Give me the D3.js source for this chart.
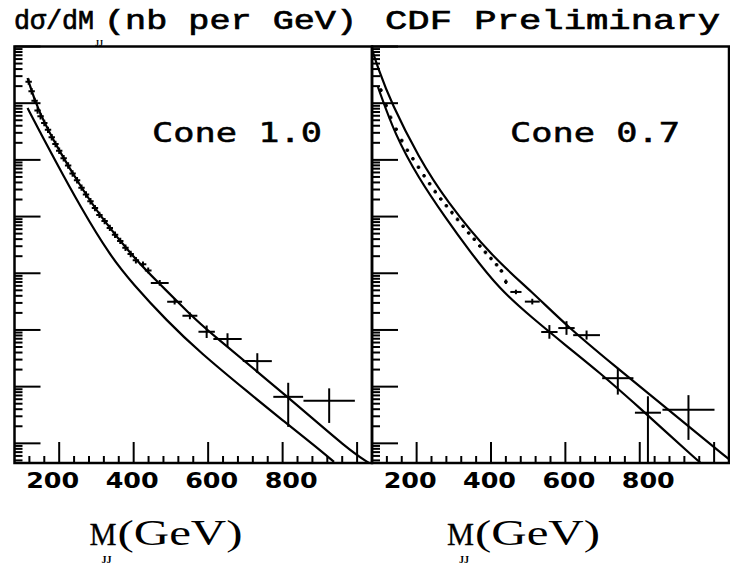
<!DOCTYPE html>
<html>
<head>
<meta charset="utf-8">
<script src="https://cdn.jsdelivr.net/npm/d3@7"></script>
<style>
  body { margin: 0; background: #fff; }
  svg { display: block; }
</style>
</head>
<body>
<svg id="chart" width="730" height="565"></svg>
<script>
// Dijet invariant mass spectrum dσ/dM_JJ (nb per GeV), two jet cone sizes.

// ---- axes ----
const massDomain = [80, 1040];            // GeV
const sigmaDomain = [4.5e-7, 10];         // nb per GeV (log)
const massMajorTicks = [200, 400, 600, 800, 1000];
const massTickLabels = ["200", "400", "600", "800"];
const massMinorStep = 40;

// ---- Cone 1.0 : theory curves ----
const cone10UpperMass = [115, 142, 203, 257, 310, 398, 470, 551, 596, 818, 978, 1032];
const cone10UpperVal  = [2.78, 0.759, 0.132, 0.0347, 0.0102, 1.94e-3, 6.46e-4, 1.91e-4, 1.0e-4, 6.3e-6, 7.6e-7, 4.5e-7];
const cone10LowerMass = [115, 150, 184, 257, 337, 398, 489, 577, 711, 799, 890, 938];
const cone10LowerVal  = [0.822, 0.298, 0.1125, 0.01476, 2.02e-3, 6.47e-4, 1.45e-4, 4.07e-5, 7.6e-6, 2.57e-6, 8.7e-7, 4.7e-7];

// ---- Cone 1.0 : data, fine bins ----
const cone10FineMass = [118, 126, 134, 142, 150, 160, 170, 180, 190, 200, 212, 224, 236, 248, 260, 272, 284, 296, 308, 322, 336, 350, 364, 378, 392, 406];
const cone10FineVal  = [2.40, 1.62, 1.10, 0.741, 0.589, 0.447, 0.339, 0.251, 0.191, 0.145, 0.107, 0.0794, 0.0575, 0.0437, 0.0324, 0.0245, 0.0186, 0.0141, 0.0107, 8.32e-3, 6.31e-3, 4.79e-3, 3.72e-3, 2.82e-3, 2.19e-3, 1.70e-3];

// ---- Cone 1.0 : data, wide bins with errors ----
const cone10BinMass = [425, 439, 470, 510, 551, 596, 652, 732, 815, 925];
const cone10BinHalf = [9, 9, 24, 20, 20, 22, 38, 39, 40, 69];
const cone10BinVal  = [1.445e-3, 1.12e-3, 6.76e-4, 3.16e-4, 1.78e-4, 9.33e-5, 6.92e-5, 2.82e-5, 6.61e-6, 5.62e-6];
const cone10BinLo   = [1.29e-3, 1.0e-3, 6.03e-4, 2.82e-4, 1.55e-4, 7.24e-5, 5.01e-5, 1.74e-5, 1.95e-6, 2.29e-6];
const cone10BinHi   = [1.62e-3, 1.26e-3, 7.59e-4, 3.55e-4, 2.04e-4, 1.20e-4, 8.71e-5, 3.89e-5, 1.17e-5, 9.33e-6];

// ---- Cone 0.7 : theory curves ----
const cone07UpperMass = [78, 96, 132, 205, 278, 403, 511, 603, 739, 828, 917, 1039];
const cone07UpperVal  = [9.8, 4.18, 1.0, 0.1125, 0.0196, 1.94e-3, 4.68e-4, 1.18e-4, 2.14e-5, 7.14e-6, 2.38e-6, 5.3e-7];
const cone07LowerMass = [96, 142, 205, 278, 340, 422, 511, 603, 693, 782, 874, 945, 964];
const cone07LowerVal  = [1.93, 0.275, 0.048, 9.44e-3, 2.58e-3, 5.28e-4, 1.63e-4, 5.22e-5, 1.75e-5, 5.37e-6, 1.52e-6, 5.75e-7, 4.5e-7];

// ---- Cone 0.7 : data, fine bins ----
const cone07FineMass = [104, 118, 130, 145, 160, 175, 190, 205, 220, 235, 250, 265, 280, 295, 310, 325, 340, 355, 370, 385, 400, 415, 428];
const cone07FineVal  = [1.70, 0.912, 0.562, 0.347, 0.219, 0.148, 0.105, 0.0741, 0.0525, 0.0380, 0.0275, 0.0204, 0.0155, 0.01175, 8.91e-3, 6.76e-3, 5.13e-3, 3.98e-3, 3.02e-3, 2.34e-3, 1.82e-3, 1.41e-3, 1.10e-3];

// ---- Cone 0.7 : data, wide bins with errors ----
const cone07BinMass = [440, 467, 511, 557, 603, 657, 741, 822, 931];
const cone07BinHalf = [5, 15, 20, 22, 22, 36, 42, 35, 70];
const cone07BinVal  = [7.08e-4, 4.68e-4, 3.16e-4, 9.2e-5, 1.08e-4, 8.1e-5, 1.41e-5, 3.47e-6, 3.9e-6];
const cone07BinLo   = [6.46e-4, 4.27e-4, 2.82e-4, 7.0e-5, 8.2e-5, 6.76e-5, 7.24e-6, 1.0e-7, 1.15e-6];
const cone07BinHi   = [7.76e-4, 5.13e-4, 3.55e-4, 1.22e-4, 1.43e-4, 9.77e-5, 2.14e-5, 6.76e-6, 7.08e-6];

// ---- layout ----
const plotTop = 46.5, plotBottom = 463;
const ink = "#000";

const panels = [
  {
    id: "c10", x0: 14.5, x1: 372, label: "Cone 1.0", labelX: 152,
    curves: [[cone10UpperMass, cone10UpperVal], [cone10LowerMass, cone10LowerVal]],
    fine: [cone10FineMass, cone10FineVal], fineSize: 3.2,
    bins: [cone10BinMass, cone10BinHalf, cone10BinVal, cone10BinLo, cone10BinHi]
  },
  {
    id: "c07", x0: 372, x1: 729, label: "Cone 0.7", labelX: 510,
    curves: [[cone07UpperMass, cone07UpperVal], [cone07LowerMass, cone07LowerVal]],
    fine: [cone07FineMass, cone07FineVal], fineSize: 1.8,
    bins: [cone07BinMass, cone07BinHalf, cone07BinVal, cone07BinLo, cone07BinHi]
  }
];

const svg = d3.select("#chart");
svg.append("rect").attr("width", 730).attr("height", 565).attr("fill", "#fff");

const y = d3.scaleLog().domain(sigmaDomain).range([plotBottom, plotTop]);

// log ticks 1..9 × 10^k inside the domain
const yTicks = [];
for (let k = -7; k <= 1; k++) {
  for (let m = 1; m <= 9; m++) {
    const v = m * Math.pow(10, k);
    if (v >= sigmaDomain[0] && v <= sigmaDomain[1] * 1.0001) yTicks.push({ v, major: m === 1 });
  }
}
const massMinorTicks = d3.range(massDomain[0] + massMinorStep, massDomain[1], massMinorStep)
  .filter(v => !massMajorTicks.includes(v));

const defs = svg.append("defs");

panels.forEach(p => {
  const x = d3.scaleLinear().domain(massDomain).range([p.x0, p.x1]);
  const g = svg.append("g");

  defs.append("clipPath").attr("id", "clip-" + p.id)
    .append("rect").attr("x", p.x0).attr("y", plotTop)
    .attr("width", p.x1 - p.x0).attr("height", plotBottom - plotTop);

  const inner = g.append("g").attr("clip-path", `url(#clip-${p.id})`);

  // theory curves (smoothed B-spline through the sampled points)
  const line = d3.line().x(d => x(d[0])).y(d => y(d[1])).curve(d3.curveBasis);
  p.curves.forEach(([ms, vs]) => {
    inner.append("path")
      .datum(ms.map((m, i) => [m, vs[i]]))
      .attr("d", line)
      .attr("fill", "none").attr("stroke", ink).attr("stroke-width", 2.2);
  });

  // fine-binned points as small crosses
  const [fm, fv] = p.fine;
  const s = p.fineSize;
  inner.append("g").selectAll("path").data(fm.map((m, i) => [m, fv[i]])).join("path")
    .attr("d", d => `M${x(d[0]) - s},${y(d[1])}h${2 * s}M${x(d[0])},${y(d[1]) - s}v${2 * s}`)
    .attr("stroke", ink).attr("stroke-width", 2).attr("fill", "none");

  // wide bins with horizontal bin width and vertical error
  const [bm, bh, bv, blo, bhi] = p.bins;
  const binData = bm.map((m, i) => ({ m, h: bh[i], v: bv[i], lo: blo[i], hi: bhi[i] }));
  const bg = inner.append("g").attr("stroke", ink).attr("stroke-width", 2);
  bg.selectAll("line.h").data(binData).join("line").attr("class", "h")
    .attr("x1", d => x(d.m - d.h)).attr("x2", d => x(d.m + d.h))
    .attr("y1", d => y(d.v)).attr("y2", d => y(d.v));
  bg.selectAll("line.v").data(binData).join("line").attr("class", "v")
    .attr("x1", d => x(d.m)).attr("x2", d => x(d.m))
    .attr("y1", d => y(d.lo)).attr("y2", d => y(d.hi));

  // y ticks on the left edge, pointing inward
  g.append("g").selectAll("line").data(yTicks).join("line")
    .attr("x1", p.x0).attr("x2", d => p.x0 + (d.major ? 26 : 8))
    .attr("y1", d => y(d.v)).attr("y2", d => y(d.v))
    .attr("stroke", ink).attr("stroke-width", 2);

  // x ticks on the bottom edge, pointing up
  g.append("g").selectAll("line").data(massMajorTicks.map(v => ({ v, major: true }))
      .concat(massMinorTicks.map(v => ({ v, major: false }))))
    .join("line")
    .attr("x1", d => x(d.v)).attr("x2", d => x(d.v))
    .attr("y1", plotBottom).attr("y2", d => plotBottom - (d.major ? 21 : 7))
    .attr("stroke", ink).attr("stroke-width", 2);

  // x tick labels (plotter spacing runs slightly wider than the ticks)
  g.append("g").selectAll("text").data(massTickLabels).join("text")
    .attr("x", d => x(+d) + (+d - 460) * 0.025 - 26.5)
    .attr("y", 488)
    .attr("textLength", 53).attr("lengthAdjust", "spacingAndGlyphs")
    .attr("font-family", "DejaVu Sans").attr("font-weight", "bold").attr("font-size", 21)
    .attr("fill", ink)
    .text(d => d);

  // frame
  g.append("rect")
    .attr("x", p.x0).attr("y", plotTop)
    .attr("width", p.x1 - p.x0).attr("height", plotBottom - plotTop)
    .attr("fill", "none").attr("stroke", ink).attr("stroke-width", 2.5);

  // cone label
  g.append("text")
    .attr("x", p.labelX).attr("y", 142)
    .attr("textLength", 170).attr("lengthAdjust", "spacingAndGlyphs")
    .attr("font-family", "DejaVu Sans Mono").attr("font-size", 26)
    .attr("stroke", ink).attr("stroke-width", 0.5)
    .attr("fill", ink)
    .text(p.label);

  // x axis title: M_JJ (GeV)
  const titleLeft = p.x0 + 75;
  g.append("text").attr("x", titleLeft).attr("y", 545)
    .attr("textLength", 27).attr("lengthAdjust", "spacingAndGlyphs")
    .attr("font-family", "Liberation Serif").attr("font-size", 32).attr("fill", ink)
    .attr("stroke", ink).attr("stroke-width", 0.3)
    .text("M");
  g.append("text").attr("x", titleLeft + 12).attr("y", 563)
    .attr("textLength", 10).attr("lengthAdjust", "spacingAndGlyphs")
    .attr("font-family", "Liberation Serif").attr("font-weight", "bold").attr("font-size", 11).attr("fill", ink)
    .text("JJ");
  g.append("text").attr("x", titleLeft + 28).attr("y", 545)
    .attr("textLength", 125).attr("lengthAdjust", "spacingAndGlyphs")
    .attr("font-family", "Liberation Serif").attr("font-size", 36).attr("fill", ink)
    .text("(GeV)");
});

// page title
const title = svg.append("g").attr("fill", ink).attr("stroke", ink).attr("stroke-width", 0.7)
  .attr("font-family", "Liberation Mono").attr("font-size", 28);
title.append("text").attr("x", 14).attr("y", 29)
  .attr("textLength", 80).attr("lengthAdjust", "spacingAndGlyphs").text("dσ/dM");
title.append("text").attr("x", 95).attr("y", 46).attr("font-size", 9).attr("stroke-width", 0)
  .attr("font-family", "Liberation Serif").attr("font-weight", "bold")
  .attr("textLength", 8).attr("lengthAdjust", "spacingAndGlyphs").text("JJ");
title.append("text").attr("x", 104).attr("y", 29)
  .attr("textLength", 253).attr("lengthAdjust", "spacingAndGlyphs").text("(nb per GeV)");
title.append("text").attr("x", 385).attr("y", 29)
  .attr("textLength", 335).attr("lengthAdjust", "spacingAndGlyphs").text("CDF Preliminary");
</script>
</body>
</html>
